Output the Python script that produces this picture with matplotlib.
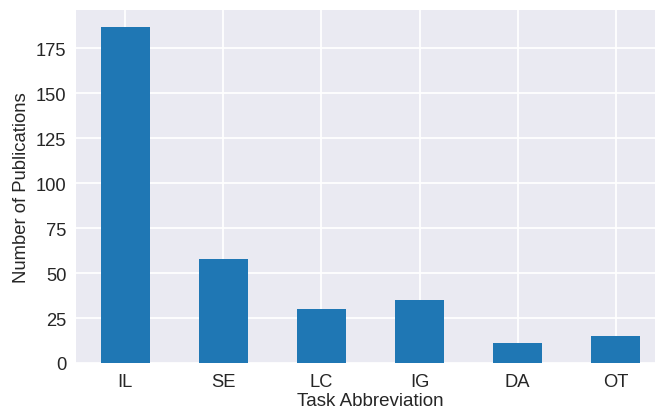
import matplotlib
matplotlib.use("Agg")
import matplotlib.pyplot as plt

tasks = ["IL", "SE", "LC", "IG", "DA", "OT"]
counts = [187, 58, 30, 35, 11, 15]

plt.style.use("seaborn-v0_8-darkgrid")
plt.rcParams["font.family"] = ["Liberation Sans", "DejaVu Sans"]
plt.rcParams["text.color"] = ".15"
plt.rcParams["axes.labelcolor"] = ".15"
plt.rcParams["xtick.color"] = ".15"
plt.rcParams["ytick.color"] = ".15"

fig = plt.figure(figsize=(6.55, 4.1), dpi=100)
# axes runs a little past the right edge, like the cropped original
ax = fig.add_axes([76 / 655, 46 / 410, 589 / 655, 353 / 410])

x = list(range(len(tasks)))
ax.bar(x, counts, width=0.5, color="#1f77b4", zorder=2)

ax.set_xlim(-0.5, len(tasks) - 0.5)
ax.set_ylim(0, max(counts) * 1.05)
ax.set_yticks(range(0, 176, 25))
ax.set_xticks(x)
ax.set_xticklabels(tasks)
ax.grid(True, color="white", linewidth=1.3)
ax.tick_params(axis="both", labelsize=13.2, length=0, pad=7)

ax.set_ylabel("Number of Publications", fontsize=13.3, labelpad=4)
ax.set_xlabel("Task Abbreviation", fontsize=13.5, labelpad=2)

fig.savefig("out.png", dpi=100)
